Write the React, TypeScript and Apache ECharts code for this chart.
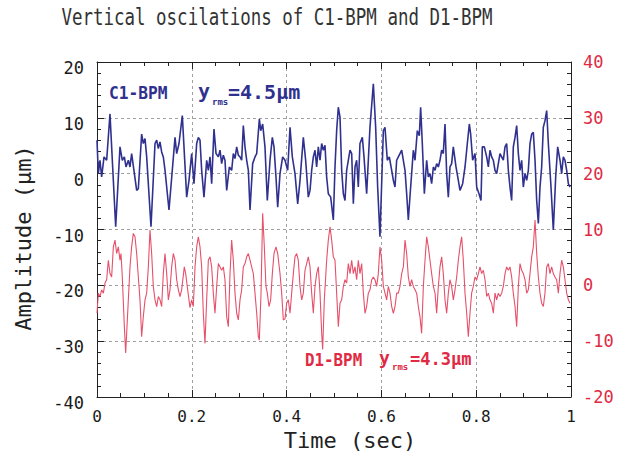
import React, { useEffect, useRef } from "react";
import * as echarts from "echarts";

// Time (sec) and amplitude (μm) of C1-BPM (left axis)
const c1Time = [
  0, 0.0028, 0.0063, 0.0098, 0.0148, 0.0204, 0.0274, 0.0394, 0.0485, 0.0534,
  0.0577, 0.0612, 0.0661, 0.0696, 0.0731, 0.0837, 0.0872, 0.0942, 0.0977, 0.1013,
  0.1048, 0.1139, 0.1224, 0.1259, 0.1294, 0.1329, 0.1364, 0.1399, 0.1435, 0.1519,
  0.1646, 0.1681, 0.173, 0.18, 0.1892, 0.1941,
  0.1997, 0.2046, 0.2103, 0.2138, 0.2173, 0.2208, 0.2257, 0.2314, 0.2349, 0.2384,
  0.2419, 0.2468, 0.2511, 0.256, 0.2595, 0.263, 0.2665, 0.27, 0.2736, 0.2792,
  0.2841, 0.2876, 0.2911, 0.2947, 0.2982, 0.3017, 0.3052, 0.3087, 0.3122, 0.3158,
  0.3193, 0.3228, 0.3284, 0.3333, 0.3369, 0.3425, 0.3453, 0.3495, 0.3544, 0.3593,
  0.365, 0.3699, 0.3734, 0.3776, 0.3812, 0.3861, 0.3917,
  0.3966, 0.4023, 0.4072, 0.4121, 0.4177, 0.4234, 0.4283, 0.4353, 0.4402, 0.4458,
  0.4494, 0.4529, 0.4564, 0.4599, 0.4634, 0.4669, 0.4705, 0.474, 0.4775, 0.481,
  0.4845, 0.488, 0.493, 0.4986, 0.5021, 0.5056, 0.5091, 0.5127, 0.5162, 0.5197,
  0.5232, 0.5267, 0.5302, 0.5338, 0.5373, 0.5408, 0.5443, 0.5478, 0.5513, 0.5548,
  0.5598, 0.5633, 0.5689, 0.5759, 0.583, 0.5879, 0.5921, 0.597,
  0.6041, 0.6076, 0.6125, 0.6167, 0.6217, 0.6252, 0.6287, 0.6322, 0.6357, 0.6392,
  0.6428, 0.6463, 0.6498, 0.6533, 0.6568, 0.6617, 0.6674, 0.6709, 0.6758, 0.68,
  0.6828, 0.6863, 0.6906, 0.6955, 0.699, 0.7025, 0.706, 0.7096, 0.7131, 0.7166,
  0.7201, 0.7236, 0.7271, 0.7306, 0.7342, 0.7377, 0.7412, 0.7447, 0.7482, 0.7517,
  0.7574, 0.7623, 0.7658, 0.7714, 0.7764, 0.7813, 0.7855, 0.7883, 0.7925,
  0.7975, 0.801, 0.8059, 0.8101, 0.8129, 0.8172, 0.8221, 0.8256, 0.8291, 0.8326,
  0.8361, 0.8397, 0.8432, 0.8467, 0.8502, 0.8537, 0.8572, 0.8608, 0.8643, 0.8678,
  0.8713, 0.8748, 0.8783, 0.8819, 0.8854, 0.8889, 0.8924, 0.8959, 0.8994, 0.903,
  0.9065, 0.91, 0.9135, 0.917, 0.9205, 0.9241, 0.9276, 0.9311, 0.9346, 0.9381,
  0.9416, 0.9451, 0.9487, 0.9522, 0.9578, 0.9627, 0.9677, 0.9719, 0.9768, 0.9803,
  0.9838, 0.9873, 0.9909, 0.9944, 0.9979,
];
const c1Amp = [
  6, 0, 2.4, -0.6, 3.0, 2.4, 10.7, -9.5, 4.8, 2.4,
  3.0, 1.2, 2.4, 1.2, 3.6, -3.0, -2.7, 7.1, 5.4, 6.3,
  3.0, -9.5, 5.4, 6.0, 4.5, 5.7, 3.9, 3.0, 0.6, -6.5,
  6.5, 3.6, 5.4, 10.4, -4.2, -1.2,
  3.6, -1.8, 5.4, 6.5, 6.0, 0.6, -4.2, 2.4, 0.6, 3.0,
  -1.8, 8.0, 3.6, 3.0, 4.2, 1.8, 3.3, 2.4, -3.0, 1.2,
  0.6, 3.6, 2.7, 4.8, 3.3, 3.0, 2.4, 8.6, 4.8, 2.4,
  0.6, -6.5, 1.8, 3.0, 3.6, 9.8, 7.7, 8.9, 4.8, -4.8,
  2.4, 6.5, 4.8, -0.6, -6.0, 0, 3.0,
  2.4, 0.6, 8.3, 3.0, 0, -5.4, -1.2, 6.5, 2.4, -4.2,
  -3.0, 0.6, 3.0, 4.2, 1.2, 4.8, 2.4, 5.4, 4.2, 5.1,
  -0.6, -3.6, -4.2, -8.3, 1.2, 7.7, 11.9, 10.1, 0.6, -3.6,
  -4.8, 0.6, 2.4, 4.2, 3.6, -5.4, 1.2, 2.4, -2.4, 5.4,
  6.5, 3.0, -3.6, 8.3, 16.1, 8.3, -2.4, -11.3,
  7.7, 8.3, 2.4, 3.0, 0.6, -1.2, -2.4, 2.4, 3.0, 3.6,
  4.2, 2.4, 0.6, -3.6, -8.3, -2.4, 4.2, 2.4, 7.7, 6.8,
  11.9, 5.4, -3.6, 2.4, -0.6, 0, -1.8, 1.2, 0.6, 1.8,
  1.2, 2.4, 4.2, 3.6, 8.9, 0, -4.2, 1.2, 1.8, 4.8,
  1.2, -1.2, -3.0, -1.8, 1.2, 5.4, 8.9, 7.1, 2.4,
  3.6, -2.4, -3.6, -4.8, 4.8, 4.8, 3.0, 1.2, 4.2, 3.0,
  2.4, 0.6, 0, 1.8, 3.6, 3.0, 2.4, 4.8, 5.4, 0.6,
  -2.4, -4.8, 4.8, 6.5, 8.6, 3.6, 0.6, 2.4, -2.4, 0,
  -1.2, 0.6, 5.4, 7.1, 7.4, 2.4, -4.8, -8.9, -2.4, 1.2,
  8.3, 9.5, 11.3, 5.4, -2.4, -10.1, -0.6, 4.8, 2.4, 0,
  3.0, 2.4, 0.6, -1.8, -2.4,
];

// Time (sec) and amplitude (μm) of D1-BPM (right axis)
const d1Time = [
  0, 0.0028, 0.0063, 0.0098, 0.0134, 0.0169, 0.0204, 0.0239, 0.0274, 0.0309,
  0.0345, 0.038, 0.0415, 0.045, 0.0485, 0.0506, 0.0534, 0.0577, 0.0605, 0.0647,
  0.0696, 0.0731, 0.0766, 0.0802, 0.0837, 0.0872, 0.0907, 0.0942, 0.0977, 0.1013,
  0.1048, 0.1083, 0.1118, 0.1153, 0.1188, 0.1224, 0.1259, 0.1294, 0.1329, 0.1364,
  0.1399, 0.1435, 0.147, 0.1505, 0.154, 0.1575, 0.161, 0.1646, 0.1681, 0.1716,
  0.1751, 0.1786, 0.1842, 0.1871, 0.1913,
  0.1962, 0.1997, 0.2032, 0.2068, 0.2103, 0.2138, 0.2173, 0.2208, 0.2243, 0.2278,
  0.2314, 0.2349, 0.2384, 0.2419, 0.2454, 0.2489, 0.2525, 0.256, 0.2595, 0.263,
  0.2665, 0.27, 0.2736, 0.2771, 0.2806, 0.2841, 0.2876, 0.2911, 0.2947, 0.2982,
  0.3017, 0.3052, 0.3087, 0.3122, 0.3158, 0.3193, 0.3228, 0.3263, 0.3298, 0.3333,
  0.3369, 0.3404, 0.3425, 0.346, 0.3495, 0.353, 0.3565, 0.3593, 0.3629, 0.3664,
  0.3699, 0.3734, 0.3776, 0.3812, 0.3861, 0.3896, 0.3931,
  0.3966, 0.4001, 0.4036, 0.4072, 0.4107, 0.4142, 0.4177, 0.4212, 0.4247, 0.4283,
  0.4318, 0.4353, 0.4388, 0.4423, 0.4458, 0.4494, 0.4529, 0.4564, 0.4599, 0.4634,
  0.4669, 0.4705, 0.474, 0.4761, 0.4796, 0.4845, 0.488, 0.4916, 0.4951, 0.4986,
  0.5021, 0.5056, 0.5091, 0.5127, 0.5162, 0.5197, 0.5232, 0.5267, 0.5302, 0.5338,
  0.5373, 0.5408, 0.5443, 0.5478, 0.5513, 0.5548, 0.5584, 0.5619, 0.5654, 0.5689,
  0.5724, 0.5759, 0.5795, 0.583, 0.5865, 0.59, 0.5935,
  0.597, 0.6006, 0.6041, 0.6076, 0.6111, 0.6146, 0.6181, 0.6217, 0.6252, 0.6287,
  0.6322, 0.6357, 0.6392, 0.6428, 0.6463, 0.6498, 0.6533, 0.6568, 0.6603, 0.6638,
  0.6674, 0.6709, 0.6744, 0.6779, 0.6814, 0.6849, 0.6885, 0.692, 0.6955, 0.699,
  0.7025, 0.706, 0.7096, 0.7131, 0.7166, 0.7201, 0.7236, 0.7271, 0.7306, 0.7342,
  0.7377, 0.7412, 0.7447, 0.7482, 0.7517, 0.7553, 0.7588, 0.7623, 0.7658, 0.7693,
  0.7728, 0.7764, 0.7799, 0.7834, 0.7869, 0.7904, 0.7939,
  0.7975, 0.801, 0.8045, 0.808, 0.8115, 0.815, 0.8186, 0.8221, 0.8256, 0.8291,
  0.8326, 0.8361, 0.8397, 0.8432, 0.8467, 0.8502, 0.8537, 0.8572, 0.8608, 0.8643,
  0.8678, 0.8713, 0.8748, 0.8783, 0.8819, 0.8854, 0.8889, 0.8924, 0.8959, 0.8994,
  0.903, 0.9065, 0.91, 0.9135, 0.917, 0.9205, 0.9241, 0.9276, 0.9311, 0.9346,
  0.9381, 0.9416, 0.9451, 0.9487, 0.9522, 0.9557, 0.9592, 0.9627, 0.9662, 0.9697,
  0.9733, 0.9768, 0.9803, 0.9838, 0.9873, 0.9909, 0.9944, 0.9979,
];
const d1Amp = [
  -5.0, -1.4, -2.0, -0.8, -1.4, 0.4, 1.0, 4.5, 2.1, 1.5,
  6.9, 8.1, 5.7, 6.9, 4.5, 5.7, 1.5, -7.4, -12.1, -5.0,
  3.3, 6.9, 9.3, 8.7, 5.7, 1.5, -2.6, -9.2, -5.6, -2.6,
  -1.4, 3.3, 9.9, 5.7, -0.2, -2.6, -3.8, -2.0, -2.6, -3.8,
  2.1, 5.7, 2.1, -2.6, -0.8, 3.3, 5.7, 4.5, 1.0, -0.8,
  -2.0, -0.8, 3.3, 2.1, -0.8,
  -4.0, -2.6, -3.8, 3.3, 6.9, 8.7, 6.9, 3.3, -5.0, -10.4,
  -2.6, 4.5, 5.1, 3.3, -1.4, -5.0, -0.2, 3.9, 3.3, 2.7,
  3.3, 1.0, -5.6, -7.4, 2.1, 8.1, 4.5, -1.4, -5.0, -6.2,
  -2.6, -0.8, 3.3, 3.9, 5.1, 5.7, 4.5, 3.3, 2.1, -1.4,
  -5.0, -9.2, -9.8, -1.4, 12.9, 6.9, -0.2, -1.4, -3.8, -2.6,
  2.1, 5.7, 6.9, 5.7, 2.1, -1.4, -6.2,
  -6.0, -3.2, -2.6, -5.0, -1.4, 2.1, 5.1, 5.7, 4.5, -0.2,
  -2.6, -1.4, 2.7, 3.9, 5.1, 3.3, -1.4, -5.0, -0.2, 2.1,
  3.3, -1.4, -8.6, -11.5, -2.6, 4.5, 8.1, 10.5, 8.1, 5.1,
  4.5, -1.4, -7.4, -3.2, -2.6, -0.2, 1.0, 0.4, 3.9, 2.1,
  4.5, 2.1, 3.3, 1.0, 4.5, 2.1, 3.9, -1.4, -5.0, -3.8,
  -1.4, -0.8, 1.0, 1.5, 1.0, -0.2, 2.1,
  6.9, 4.5, -0.2, -1.4, -2.6, -0.2, -1.4, -3.8, -5.0, -3.8,
  -1.4, -1.4, -0.2, 2.1, 3.3, 8.1, 5.7, 1.5, -0.2, 1.0,
  -0.2, -0.8, -1.4, -3.8, -5.6, -8.6, -0.2, 4.5, 8.7, 6.9,
  4.5, 2.1, -0.2, -1.4, -5.0, -0.2, 3.3, 5.1, 2.1, -2.6,
  -5.0, -1.4, 1.0, -0.2, -2.6, -0.8, 1.5, 4.5, 6.9, 8.7,
  4.5, -1.4, -5.0, -9.2, -5.0, -1.4, -0.2,
  1.5, 1.0, 2.1, 3.3, 2.1, 2.7, 1.0, -2.0, -1.4, -2.6,
  -3.2, -5.0, -1.4, -2.6, -1.4, -2.0, -1.4, -0.2, 2.1, 3.3,
  2.7, 3.3, 1.5, -1.4, -3.8, -7.4, -0.2, 3.9, 2.7, 2.1,
  1.0, -1.4, -0.8, 2.1, 5.1, 6.9, 11.7, 5.7, 1.5, -1.4,
  -3.2, -3.8, -1.4, 3.3, 3.9, 2.1, 3.3, 2.1, 1.5, 1.0,
  -1.4, 2.1, 4.5, 3.3, 1.0, -1.4, -2.6, -3.2,
];

const MONO = "'DejaVu Sans Mono', 'Liberation Mono', monospace";
const BLUE = "#30318f";
const RED = "#e02a44";

function txt(x: number, y: number, text: string, size: number, color: string, o: any = {}) {
  const align = o.align ?? "left";
  return {
    type: "text",
    x,
    y,
    scaleX: o.sx ?? 1,
    rotation: o.rot ?? 0,
    silent: true,
    z: 10,
    style: {
      text,
      fontSize: size,
      fontFamily: MONO,
      fontWeight: o.bold ? "bold" : "normal",
      fill: color,
      align,
      textAlign: align,
      verticalAlign: "middle",
      textVerticalAlign: "middle",
    },
  };
}

export default function App() {
  const ref = useRef<HTMLDivElement>(null);
  useEffect(() => {
    const chart = echarts.init(ref.current!, null, { renderer: "svg" });
    const c1 = c1Time.map((t, i) => [t, c1Amp[i]]);
    const d1 = d1Time.map((t, i) => [t, d1Amp[i]]);
    const split = { show: true, lineStyle: { type: [3, 3], color: "#a0a0a0", width: 1 } };
    const line = { show: true, onZero: false, lineStyle: { color: "#222", width: 1 } };
    const tick = { show: true, inside: true, length: 7, lineStyle: { color: "#222" } };
    const minor = (n: number) => ({ show: true, splitNumber: n, length: 4, lineStyle: { color: "#222" } });
    chart.setOption({
      animation: false,
      backgroundColor: "#fff",
      grid: { left: 97, right: 52, top: 62, bottom: 57 },
      xAxis: [
        {
          type: "value", min: 0, max: 1, interval: 0.2, position: "bottom",
          axisLine: line, axisTick: tick, minorTick: minor(4), splitLine: split,
          axisLabel: {
            margin: 11, fontSize: 16, color: "#1a1a1a", fontFamily: MONO,
            formatter: (v: number) => String(Math.round(v * 10) / 10),
          },
        },
        {
          type: "value", min: 0, max: 1, interval: 0.2, position: "top",
          axisLine: line, axisTick: tick, minorTick: minor(4),
          splitLine: { show: false }, axisLabel: { show: false },
        },
      ],
      yAxis: [
        {
          type: "value", min: -40, max: 20, interval: 10, position: "left",
          axisLine: line, axisTick: tick, minorTick: minor(5), splitLine: split,
          axisLabel: {
            margin: 13, fontSize: 17, color: "#1a1a1a", fontFamily: MONO,
            verticalAlign: "top", lineHeight: 12,
          },
        },
        {
          type: "value", min: -20, max: 40, interval: 10, position: "right",
          axisLine: line, axisTick: tick, minorTick: minor(5), splitLine: { show: false },
          axisLabel: { margin: 12, fontSize: 17, color: RED, fontFamily: MONO },
        },
      ],
      series: [
        {
          type: "line", xAxisIndex: 0, yAxisIndex: 1, data: d1, showSymbol: false, symbol: "none",
          lineStyle: { color: "#e6506a", width: 1.1 }, silent: true,
        },
        {
          type: "line", xAxisIndex: 0, yAxisIndex: 0, data: c1, showSymbol: false, symbol: "none",
          lineStyle: { color: BLUE, width: 1.6 }, silent: true,
        },
      ],
      graphic: [
        txt(277, 17, "Vertical oscilations of C1-BPM and D1-BPM", 23, "#333", { align: "center", sx: 0.76 }),
        txt(23, 238, "Amplitude (μm)", 22, "#222", { align: "center", rot: Math.PI / 2 }),
        txt(350, 440, "Time (sec)", 22, "#222", { align: "center" }),
        txt(109, 93, "C1-BPM", 18, BLUE, { sx: 0.9, bold: true }),
        txt(198, 91, "y", 20, BLUE, { bold: true }),
        txt(212, 102, "rms", 9, BLUE, { bold: true }),
        txt(228, 92, "=4.5μm", 20, BLUE, { bold: true }),
        txt(305, 360, "D1-BPM", 18, RED, { sx: 0.88, bold: true }),
        txt(379, 357, "y", 18, RED, { bold: true }),
        txt(392, 367, "rms", 9, RED, { bold: true }),
        txt(410, 359, "=4.3μm", 17, RED, { bold: true }),
      ],
    });
    return () => chart.dispose();
  }, []);
  return (
    <div
      ref={ref}
      style={{ position: "absolute", left: 0, top: 0, width: 623, height: 454, background: "#fff" }}
    />
  );
}
